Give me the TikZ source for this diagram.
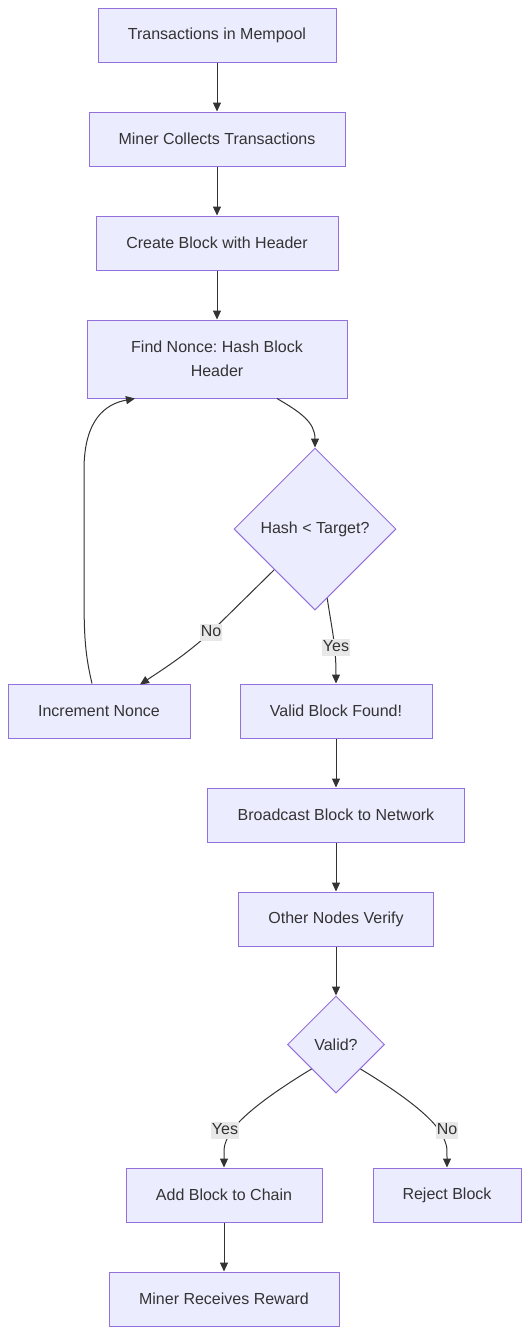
\documentclass[tikz,border=0pt]{standalone}
\usepackage{fontspec}
\setmainfont{Liberation Sans}
\usetikzlibrary{shapes.geometric,arrows.meta}
\definecolor{nodefill}{HTML}{ECECFF}
\definecolor{nodeline}{HTML}{9370DB}
\definecolor{txt}{HTML}{333333}
\definecolor{lblbg}{HTML}{E8E8E8}
\frenchspacing
\begin{document}
\begin{tikzpicture}[x=1pt,y=-1pt,
  every node/.style={font=\fontsize{16}{24}\selectfont, text=txt},
  box/.style={draw=nodeline, fill=nodefill, line width=1pt, inner sep=0pt, minimum height=54pt},
  dia/.style={draw=nodeline, fill=nodefill, line width=1pt, diamond, inner sep=0pt, aspect=1},
  edge/.style={draw=txt, line width=1pt, -{Triangle[length=9pt,width=8pt]}},
  lbl/.style={fill=lblbg, inner sep=1pt, text height=12pt, text depth=3pt}
]
\useasboundingbox (0,0) rectangle (530,1334);
\fill[white] (0,0) rectangle (530,1334);

\node[box, minimum width=238pt] (n1) at (217,35) {Transactions in Mempool};
\node[box, minimum width=256pt] (n2) at (217,139) {Miner Collects Transactions};
\node[box, minimum width=242pt] (n3) at (217,243) {Create Block with Header};
\node[box, minimum width=260pt, minimum height=78pt, align=center] (n4) at (217,359) {Find Nonce: Hash Block\\Header};
\node[dia, minimum width=162pt, minimum height=162pt] (d1) at (315,529) {Hash < Target?};
\node[box, minimum width=182pt] (inc) at (99,711) {Increment Nonce};
\node[box, minimum width=192pt] (vb) at (336,711) {Valid Block Found!};
\node[box, minimum width=257pt] (bc) at (336,815) {Broadcast Block to Network};
\node[box, minimum width=195pt] (ov) at (336,919) {Other Nodes Verify};
\node[dia, minimum width=97pt, minimum height=97pt] (d2) at (336,1044.5) {Valid?};
\node[box, minimum width=196pt] (add) at (224,1195) {Add Block to Chain};
\node[box, minimum width=148pt] (rej) at (447,1195) {Reject Block};
\node[box, minimum width=230pt] (rew) at (224,1299) {Miner Receives Reward};

\draw[edge] (n1) -- (n2);
\draw[edge] (n2) -- (n3);
\draw[edge] (n3) -- (n4);
\draw[edge] ([xshift=60pt]n4.south) .. controls (300,412) and (315,422) .. (d1.north);
\draw[edge] (d1.south west) -- (215,628) .. controls (190,652) and (165,668) .. (140,684.5);
\draw[edge] (d1.-80) .. controls (332,630) and (336,645) .. (vb.north);
\draw[edge] ([xshift=-7pt]inc.north) .. controls (84,650) and (84,630) .. (84,580) -- (84,470) .. controls (84,420) and (105,404) .. ([xshift=-82pt]n4.south);
\draw[edge] (vb) -- (bc);
\draw[edge] (bc) -- (ov);
\draw[edge] (ov) -- (d2);
\draw[edge] (d2.south west) .. controls (280,1088) and (240,1115) .. (229,1135) .. controls (224,1145) .. (add.north);
\draw[edge] (d2.south east) .. controls (392,1088) and (432,1115) .. (442,1135) .. controls (447,1145) .. (rej.north);
\draw[edge] (add) -- (rew);

\node[lbl] (lno1) at (211,632) {No};
\node[lbl] (lyes1) at (336,647) {Yes};
\node[lbl] (lyes2) at (225,1130) {Yes};
\node[lbl] (lno2) at (447,1130) {No};
\end{tikzpicture}
\end{document}
